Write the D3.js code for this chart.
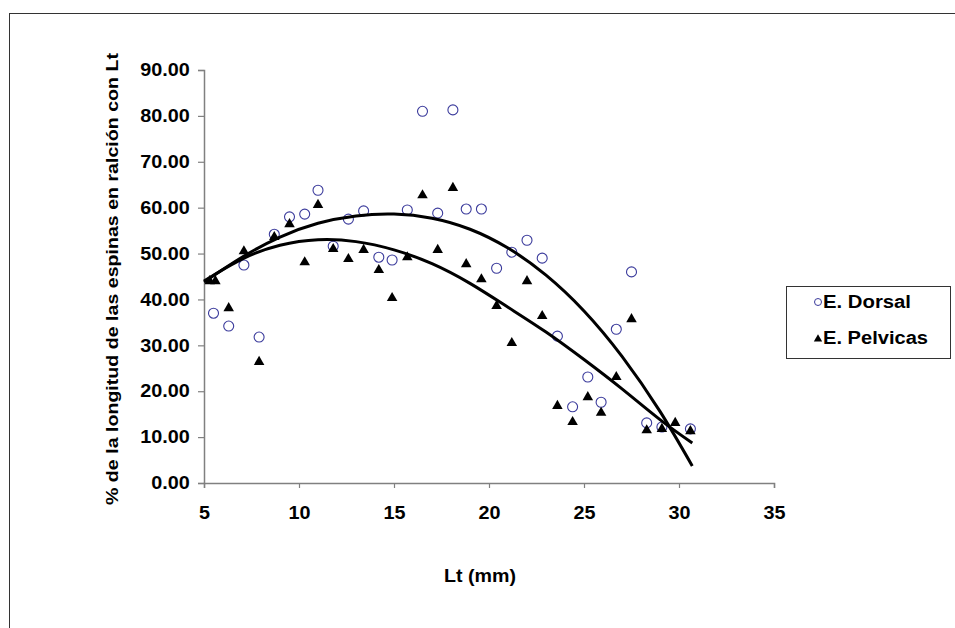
<!DOCTYPE html>
<html>
<head>
<meta charset="utf-8">
<script src="https://cdn.jsdelivr.net/npm/d3@7"></script>
<style>
  body { margin: 0; background: #fff; }
  svg text { font-family: "Liberation Sans", Arial, sans-serif; font-weight: bold; fill: #000; }
</style>
</head>
<body>
<svg id="chart" width="955" height="628"></svg>
<script>
// values
const dorsalX = [5.5, 6.3, 7.1, 7.9, 8.7, 9.5, 10.3, 11.0, 11.8, 12.6, 13.4, 14.2, 14.9, 15.7, 16.5, 17.3,
  18.1, 18.8, 19.6, 20.4, 21.2, 22.0, 22.8, 23.6, 24.4, 25.2, 25.9, 26.7, 27.5, 28.3, 29.1, 30.6];
const dorsalY = [37.0, 34.2, 47.5, 31.8, 54.2, 58.0, 58.6, 63.8, 51.6, 57.5, 59.3, 49.2, 48.6, 59.5, 81.0, 58.8,
  81.3, 59.7, 59.7, 46.8, 50.3, 52.9, 49.0, 32.0, 16.6, 23.1, 17.6, 33.5, 46.0, 13.1, 12.2, 11.8];

const pelvicX = [5.3, 5.6, 6.3, 7.1, 7.9, 8.7, 9.5, 10.3, 11.0, 11.8, 12.6, 13.4, 14.2, 14.9, 15.7, 16.5, 17.3,
  18.1, 18.8, 19.6, 20.4, 21.2, 22.0, 22.8, 23.6, 24.4, 25.2, 25.9, 26.7, 27.5, 28.3, 29.1, 29.8, 30.6];
const pelvicY = [44.0, 44.0, 38.1, 50.5, 26.4, 53.6, 56.4, 48.1, 60.6, 51.0, 48.8, 50.8, 46.4, 40.3, 49.2, 62.7, 50.8,
  64.3, 47.7, 44.4, 38.6, 30.5, 44.0, 36.4, 16.8, 13.3, 18.7, 15.3, 23.1, 35.7, 11.5, 11.8, 13.1, 11.3];

// trend lines as drawn in the reference (polynomial trendlines), read at regular x
const trendX = [5, 7, 9, 11, 13, 15, 17, 19, 21, 23, 25, 27, 29, 30.7];
const dorsalTrendY = [43.8, 49.2, 53.6, 56.6, 58.2, 58.6, 57.7, 55.3, 51.2, 45.3, 37.5, 27.6, 15.6, 3.7];
const pelvicTrendY = [44.0, 48.8, 51.8, 53.0, 52.6, 50.8, 47.8, 43.5, 38.3, 32.9, 26.9, 20.5, 13.8, 8.7];

const xTicks = [5, 10, 15, 20, 25, 30, 35];
const yTicks = [0, 10, 20, 30, 40, 50, 60, 70, 80, 90];
const seriesNames = ["E. Dorsal", "E. Pelvicas"];

const svg = d3.select("#chart");

// outer frame
svg.append("rect")
  .attr("x", 9.5).attr("y", 13.5)
  .attr("width", 960).attr("height", 700)
  .attr("fill", "none").attr("stroke", "#333").attr("stroke-width", 1);

const x = d3.scaleLinear().domain([5, 35]).range([204, 774]);
const y = d3.scaleLinear().domain([0, 90]).range([483, 70]);

const xAxis = svg.append("g")
  .attr("transform", "translate(0,483)")
  .call(d3.axisBottom(x).tickValues(xTicks).tickSizeOuter(0).tickSize(5).tickPadding(18));
const yAxis = svg.append("g")
  .attr("transform", "translate(204,0)")
  .call(d3.axisLeft(y).tickValues(yTicks).tickFormat(d3.format(".2f")).tickSizeOuter(0).tickSize(6).tickPadding(7));

[xAxis, yAxis].forEach(g => {
  g.select(".domain").attr("stroke", "#808080").attr("stroke-width", 1.5);
  g.selectAll(".tick line").attr("stroke", "#808080").attr("stroke-width", 1.2);
  g.selectAll(".tick text").attr("font-size", 18).attr("font-family", null).attr("fill", "#000")
    .attr("transform", "scale(1.1,1)");
});

const dorsal = dorsalX.map((v, i) => [v, dorsalY[i]]);
const pelvic = pelvicX.map((v, i) => [v, pelvicY[i]]);

svg.append("g").selectAll("circle")
  .data(dorsal)
  .join("circle")
  .attr("cx", d => x(d[0]))
  .attr("cy", d => y(d[1]))
  .attr("r", 5)
  .attr("fill", "#fff")
  .attr("stroke", "#3b3b9c")
  .attr("stroke-width", 1.1);

const tri = d3.symbol().type(d3.symbolTriangle).size(48);
svg.append("g").selectAll("path")
  .data(pelvic)
  .join("path")
  .attr("transform", d => `translate(${x(d[0])},${y(d[1])})`)
  .attr("d", tri)
  .attr("fill", "#000");

const trend = d3.line().x(d => x(d[0])).y(d => y(d[1])).curve(d3.curveNatural);
[dorsalTrendY, pelvicTrendY].forEach(ys => {
  svg.append("path")
    .datum(trendX.map((v, i) => [v, ys[i]]))
    .attr("fill", "none")
    .attr("stroke", "#000")
    .attr("stroke-width", 3)
    .attr("d", trend);
});

// axis titles
svg.append("text")
  .attr("x", 480).attr("y", 582)
  .attr("text-anchor", "middle")
  .attr("font-size", 18)
  .attr("textLength", 72)
  .attr("lengthAdjust", "spacingAndGlyphs")
  .text("Lt (mm)");

svg.append("text")
  .attr("transform", "translate(118,279) rotate(-90)")
  .attr("text-anchor", "middle")
  .attr("font-size", 17)
  .attr("textLength", 452)
  .attr("lengthAdjust", "spacingAndGlyphs")
  .text("% de la longitud de las espinas en ralción con  Lt");

// legend
const legend = svg.append("g");
legend.append("rect")
  .attr("x", 786.5).attr("y", 286.5)
  .attr("width", 164).attr("height", 72)
  .attr("fill", "#fff").attr("stroke", "#333").attr("stroke-width", 1);
legend.append("circle")
  .attr("cx", 818).attr("cy", 302).attr("r", 3.5)
  .attr("fill", "#fff").attr("stroke", "#3b3b9c").attr("stroke-width", 1);
legend.append("path")
  .attr("transform", "translate(818,339)")
  .attr("d", d3.symbol().type(d3.symbolTriangle).size(30))
  .attr("fill", "#000");
const labelWidths = [88, 105];
legend.selectAll("text.lab")
  .data(seriesNames)
  .join("text")
  .attr("class", "lab")
  .attr("x", 823)
  .attr("y", (d, i) => 308 + i * 36)
  .attr("font-size", 18)
  .attr("textLength", (d, i) => labelWidths[i])
  .attr("lengthAdjust", "spacingAndGlyphs")
  .text(d => d);
</script>
</body>
</html>
